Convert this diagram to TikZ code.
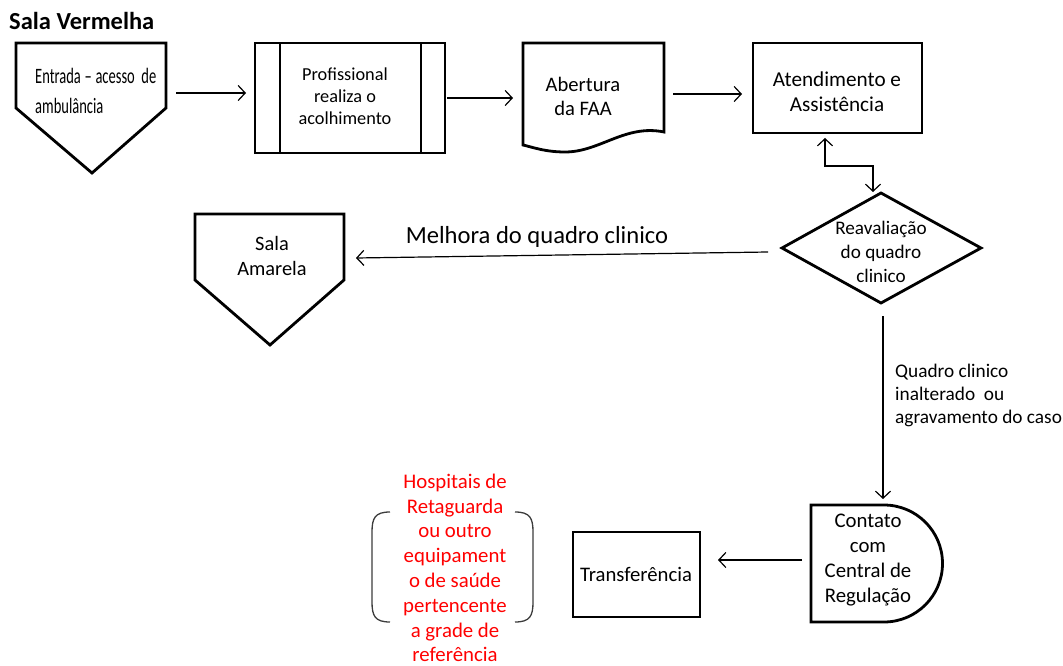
\documentclass[tikz,border=0pt]{standalone}
\usepackage{fontspec}
\setmainfont{Carlito}
\newfontfamily\condensed[FakeStretch=0.66]{Carlito}
\usetikzlibrary{arrows.meta}
\definecolor{bracegray}{RGB}{60,60,60}
\begin{document}
\begin{tikzpicture}[x=1pt,y=-1pt,
  outline/.style={line width=2.8pt, line join=miter},
  flow/.style={line width=1.2pt, -{Straight Barb[length=7pt,width=15pt,line width=1.2pt]}},
  dflow/.style={line width=1.2pt, {Straight Barb[length=7pt,width=15pt,line width=1.2pt]}-{Straight Barb[length=7pt,width=15pt,line width=1.2pt]}},
  txt/.style={align=center, inner sep=0pt},
  bracket/.style={line width=1.3pt, draw=bracegray}
]
\useasboundingbox (0,0) rectangle (1063,666);

% title
\node[anchor=base west, inner sep=0pt, font=\bfseries\fontsize{24.5}{28}\selectfont] (title) at (9,30) {Sala Vermelha};

% entry (off-page connector shape)
\draw[outline] (16,43) -- (166,43) -- (166,108) -- (92,173) -- (16,108) -- cycle;
\node[txt, align=left, anchor=north west, font=\condensed\fontsize{22}{30}\selectfont] (entrada) at (35,68) {Entrada\,–\,acesso\ \ de\\ambulância};
\coordinate (entrada-out) at (176,93);

% predefined process
\draw[outline] (255,43) rectangle (445,153);
\draw[outline] (280,43) -- (280,153);
\draw[outline] (421,43) -- (421,153);
\node[txt, font=\fontsize{18.3}{22}\selectfont] (prof) at (345,96) {Profissional\\realiza o\\acolhimento};
\coordinate (prof-in) at (246,93);
\coordinate (prof-out) at (447,98);

% document
\draw[outline] (523,43) -- (664,43) -- (664,132)
  .. controls (625,124) and (600,152) .. (565,152)
  .. controls (545,152) and (532,147) .. (523,145) -- cycle;
\node[txt, font=\fontsize{20.6}{24}\selectfont] (faa) at (583,96) {Abertura\\da FAA};
\coordinate (faa-in) at (513,98);
\coordinate (faa-out) at (673,94);

% care box
\draw[outline] (753,43) rectangle (922,133);
\node[txt, font=\fontsize{21.2}{25}\selectfont] (atend) at (837,92) {Atendimento e\\Assistência};
\coordinate (atend-in) at (742,94);
\coordinate (atend-s) at (825,138);

% decision
\draw[outline] (881,193) -- (981,248) -- (881,303) -- (782,248) -- cycle;
\node[txt, font=\fontsize{19.2}{24}\selectfont] (reav) at (881,252) {Reavaliação\\do quadro\\clinico};
\coordinate (reav-n) at (873,192);
\coordinate (reav-w) at (768,252);
\coordinate (reav-s) at (883,316);

% yellow room
\draw[outline] (195,214) -- (344,214) -- (344,280) -- (270,345) -- (195,280) -- cycle;
\node[txt, font=\fontsize{20.4}{25}\selectfont] (amarela) at (272,256) {Sala\\Amarela};
\coordinate (amarela-in) at (356,258);

% delay shape
\draw[outline] (811,505) -- (884,505) arc(-90:90:58.5) -- (811,622) -- cycle;
\node[txt, font=\fontsize{20.8}{25}\selectfont] (contato) at (868,560) {Contato\\com\\Central de\\Regulação};
\coordinate (contato-n) at (883,499);
\coordinate (contato-w) at (802,560);

% transfer box
\draw[outline] (573,532) rectangle (700,617);
\node[txt, font=\fontsize{20.7}{25}\selectfont] (transf) at (636,574) {Transferência};
\coordinate (transf-in) at (718,560);

% destinations note
\node[txt, text=red, font=\fontsize{20.8}{24.8}\selectfont] (destino) at (455,568) {Hospitais de\\Retaguarda\\ou outro\\equipament\\o de saúde\\pertencente\\a grade de\\referência};
\draw[bracket] (390,512) .. controls (375,512) and (372,518) .. (372,532) -- (372,602)
  .. controls (372,616) and (375,622) .. (390,622);
\draw[bracket] (515,512) .. controls (530,512) and (533,518) .. (533,532) -- (533,602)
  .. controls (533,616) and (530,622) .. (515,622);

% connectors
\draw[flow] (entrada-out) -- (prof-in);
\draw[flow] (prof-out) -- (faa-in);
\draw[flow] (faa-out) -- (atend-in);
\draw[dflow] (atend-s) -- (825,166) -- (873,166) -- (reav-n);
\draw[flow] (reav-w) -- (amarela-in);
\node[txt, anchor=base, font=\fontsize{24.6}{28}\selectfont] (melhora) at (537,243) {Melhora do quadro clinico};
\draw[flow] (reav-s) -- (contato-n);
\node[txt, align=left, anchor=west, font=\fontsize{19.3}{23}\selectfont] (quadro) at (895,395) {Quadro clinico\\inalterado\ \ ou\\agravamento do caso};
\draw[flow] (contato-w) -- (transf-in);
\end{tikzpicture}
\end{document}
